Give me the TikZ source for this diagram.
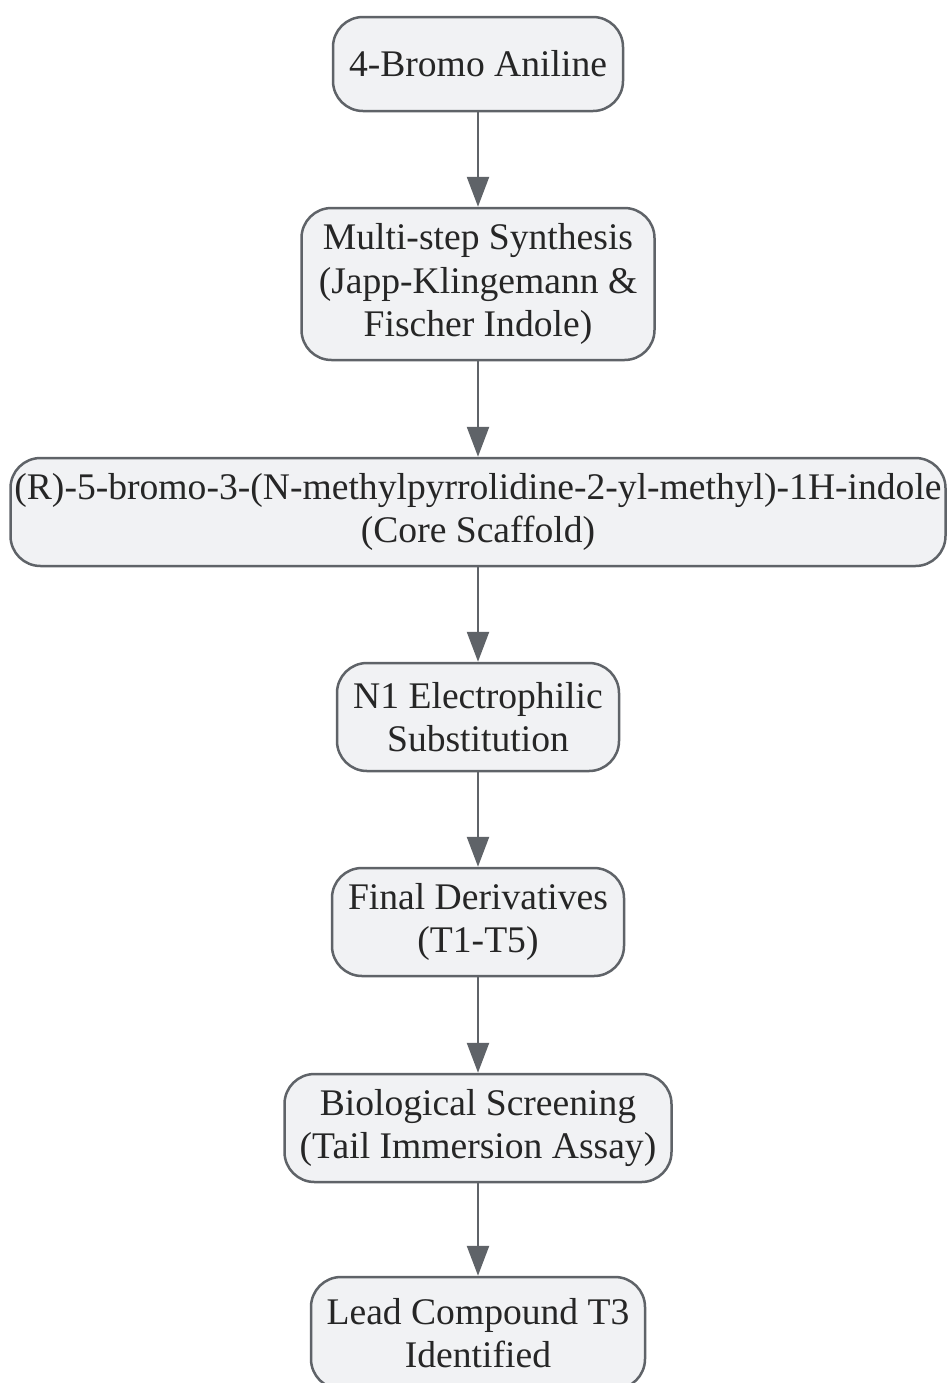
\documentclass[tikz,border=0pt]{standalone}
\usepackage{fontspec}
\setmainfont{Liberation Serif}
\usepackage{tikz}
\usetikzlibrary{arrows.meta, positioning}

\definecolor{boxfill}{HTML}{F1F2F4}
\definecolor{boxline}{HTML}{5F6368}

\begin{document}
\begin{tikzpicture}[x=0.5pt, y=-0.5pt, every node/.style={minimum height=54pt, inner sep=0pt}, step box/.style={draw=boxline, fill=boxfill, line width=1.25pt, rounded corners=15pt, align=center, font=\fontsize{18.8}{21.8}\selectfont, text=black!85}, post/.style={draw=boxline, line width=1.25pt, -{Triangle[length=15pt, width=11pt]}}]

	\useasboundingbox (0,0) rectangle (947,1383);

	\node [step box] (BA) at (478,64) [minimum width=145pt, minimum height=47pt]
		{4-Bromo Aniline};

	\node [step box] (MS)
		[node distance=110pt, below of=BA, minimum width=176.5pt, minimum height=76pt]
		{Multi-step Synthesis\\(Japp-Klingemann \&\\Fischer Indole)};

	\node [step box] (CS)
		[node distance=114pt, below of=MS, minimum width=467.5pt]
		{(R)-5-bromo-3-(N-methylpyrrolidine-2-yl-methyl)-1H-indole\\(Core Scaffold)};

	\node [step box] (NS)
		[node distance=102.5pt, below of=CS, minimum width=141pt]
		{N1 Electrophilic\\Substitution};

	\node [step box] (FD)
		[node distance=102.5pt, below of=NS, minimum width=146pt]
		{Final Derivatives\\(T1-T5)};

	\node [step box] (BS)
		[node distance=103pt, below of=FD, minimum width=193.5pt]
		{Biological Screening\\(Tail Immersion Assay)};

	\node [step box] (LC)
		[node distance=102.5pt, below of=BS, minimum width=167pt, minimum height=56pt]
		{Lead Compound T3\\Identified};

	\draw[post] (BA) -- (MS);
	\draw[post] (MS) -- (CS);
	\draw[post] (CS) -- (NS);
	\draw[post] (NS) -- (FD);
	\draw[post] (FD) -- (BS);
	\draw[post] (BS) -- (LC);

\end{tikzpicture}
\end{document}
